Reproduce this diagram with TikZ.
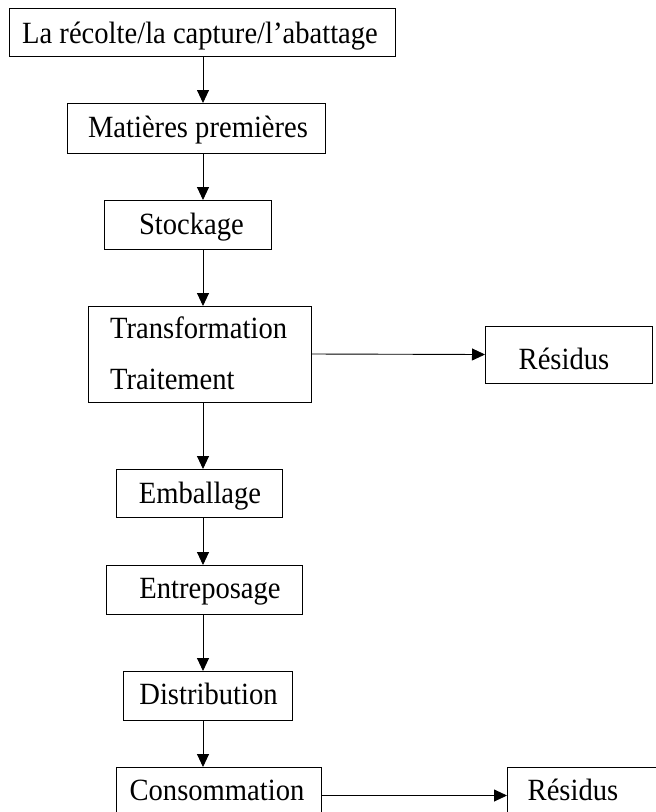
\documentclass[tikz,border=0pt]{standalone}
\usepackage{fontspec}
\setmainfont{Liberation Serif}
\usetikzlibrary{arrows.meta}
\newcommand{\vstretch}[1]{\scalebox{1}[1.08]{#1}}
\begin{document}
\begin{tikzpicture}[x=1pt,y=-1pt,
  box/.style={draw=black,line width=0.9pt,rectangle,inner sep=0pt,outer sep=0pt},
  txt/.style={anchor=base,inner sep=0pt,font=\fontsize{28.6}{34}\selectfont},
  txtw/.style={anchor=base west,inner sep=0pt,font=\fontsize{28.6}{34}\selectfont},
  arr/.style={line width=0.9pt,-{Triangle[length=13pt,width=12pt]}}]
\useasboundingbox (0,0) rectangle (656,812);
\coordinate (ax) at (203,0);
% boxes
\node[box,minimum width=386pt,minimum height=48pt] (b1) at (202,32) {};
\node[box,minimum width=258pt,minimum height=50pt] (b2) at (196,128) {};
\node[box,minimum width=167pt,minimum height=49pt] (b3) at (187.5,224.5) {};
\node[box,minimum width=223pt,minimum height=96pt] (trans) at (199.5,354) {};
\node[box,minimum width=167pt,minimum height=57pt] (res1) at (568.5,354.5) {};
\node[box,minimum width=166pt,minimum height=48pt] (emb) at (199,493) {};
\node[box,minimum width=196pt,minimum height=49pt] (ent) at (204,589.5) {};
\node[box,minimum width=169pt,minimum height=49pt] (dist) at (207.5,695.5) {};
\node[box,minimum width=205pt,minimum height=57pt] (cons) at (218.5,795.5) {};
\node[box,minimum width=167pt,minimum height=57pt] (res2) at (590.5,795.5) {};
% texts
\node[txt] (t1) at (200,43) {\vstretch{La récolte/la capture/l’abattage}};
\node[txt] (t2) at (198,137) {\vstretch{Matières premières}};
\node[txt] (t3) at (191.5,234) {\vstretch{Stockage}};
\node[txtw] (t4a) at (110,338) {\vstretch{Transformation}};
\node[txtw] (t4b) at (110,389) {\vstretch{Traitement}};
\node[txt] (t5) at (564,369) {\vstretch{Résidus}};
\node[txt] (t6) at (200,503) {\vstretch{Emballage}};
\node[txt] (t7) at (210,598) {\vstretch{Entreposage}};
\node[txt] (t8) at (208.5,704) {\vstretch{Distribution}};
\node[txt] (t9) at (217,800) {\vstretch{Consommation}};
\node[txt] (t10) at (573,800) {\vstretch{Résidus}};
% connectors
\draw[arr] (b1.south -| ax) -- (b2.north -| ax);
\draw[arr] (b2.south -| ax) -- (b3.north -| ax);
\draw[arr] (b3.south -| ax) -- (trans.north -| ax);
\draw[arr] (trans.east) -- (res1.west);
\draw[arr] (trans.south -| ax) -- (emb.north -| ax);
\draw[arr] (emb.south -| ax) -- (ent.north -| ax);
\draw[arr] (ent.south -| ax) -- (dist.north -| ax);
\draw[arr] (dist.south -| ax) -- (cons.north -| ax);
\draw[arr] (cons.east) -- (res2.west);
\end{tikzpicture}
\end{document}
